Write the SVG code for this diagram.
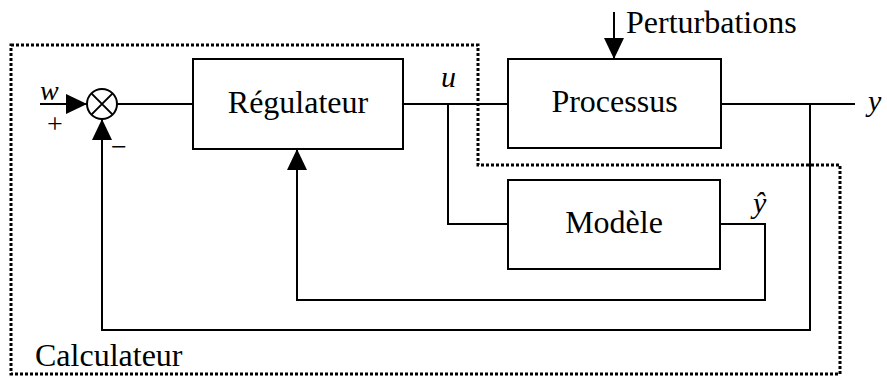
<svg xmlns="http://www.w3.org/2000/svg" width="887" height="376" viewBox="0 0 887 376">
<style>
.box{fill:#fff;stroke:#000;stroke-width:2}
.ln{fill:none;stroke:#000;stroke-width:2}
.dot{fill:none;stroke:#000;stroke-width:3;stroke-dasharray:3 2}
.t{font-family:"Liberation Serif","Times New Roman",serif;font-size:32px;fill:#000}
.m{font-family:"Liberation Serif","Times New Roman",serif;font-style:italic;font-size:30px;fill:#000}
.s{font-family:"Liberation Serif","Times New Roman",serif;font-size:28px;fill:#000}
</style>
<defs>
<marker id="arr" markerUnits="userSpaceOnUse" markerWidth="21" markerHeight="20" refX="21" refY="10" orient="auto">
<path d="M0,0 L21,10 L0,20 Z" fill="#000"/>
</marker>
</defs>
<rect width="887" height="376" fill="#fff"/>
<g id="calculateur">
<path class="dot" d="M11,45 H478 V165 H840 V374 H11 Z"/>
<text class="t" x="35" y="366">Calculateur</text>
</g>
<g id="connectors">
<path class="ln" d="M40,104 H87" marker-end="url(#arr)"/>
<path class="ln" d="M117,104 H193"/>
<path class="ln" d="M403,104 H508"/>
<path class="ln" d="M721,104 H855"/>
<path class="ln" d="M448,104 V224 H508"/>
<path class="ln" d="M720,224 H765 V300 H297 V149" marker-end="url(#arr)"/>
<path class="ln" d="M810,104 V330 H102 V119" marker-end="url(#arr)"/>
<path class="ln" d="M614,12 V59" marker-end="url(#arr)"/>
</g>
<g id="sum">
<circle class="ln" cx="102" cy="104" r="15"/>
<path class="ln" d="M91.4,93.4 L112.6,114.6 M112.6,93.4 L91.4,114.6"/>
<text class="m" x="40" y="100" style="font-size:28px">w</text>
<text class="s" x="55" y="133" text-anchor="middle">+</text>
<text class="s" x="119" y="156" text-anchor="middle">−</text>
</g>
<g id="regulateur">
<rect class="box" x="193" y="59" width="210" height="90"/>
<text class="t" x="298" y="113" text-anchor="middle">Régulateur</text>
</g>
<g id="processus">
<rect class="box" x="508" y="59" width="213" height="89"/>
<text class="t" x="614.5" y="112" text-anchor="middle">Processus</text>
</g>
<g id="modele">
<rect class="box" x="508" y="180" width="212" height="89"/>
<text class="t" x="614" y="233" text-anchor="middle">Modèle</text>
</g>
<g id="labels">
<text class="m" x="441" y="87">u</text>
<text class="m" x="868" y="111">y</text>
<text class="m" x="753" y="213">ŷ</text>
<text class="t" x="626" y="33">Perturbations</text>
</g>
</svg>
